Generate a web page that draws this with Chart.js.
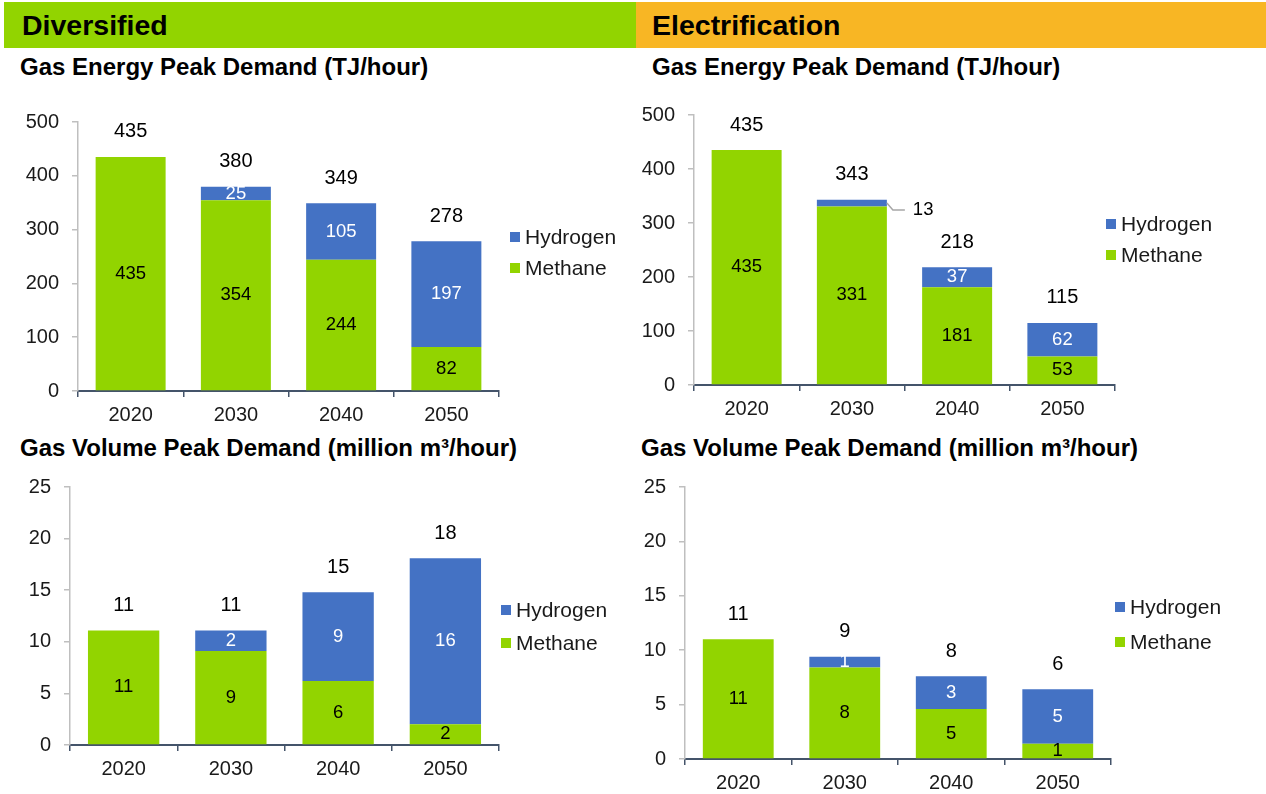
<!DOCTYPE html>
<html>
<head>
<meta charset="utf-8">
<script src="https://cdn.jsdelivr.net/npm/chart.js@4.4.1/dist/chart.umd.min.js"></script>
<style>
  html, body { margin:0; padding:0; background:#fff; }
  body { width:1266px; height:794px; position:relative; overflow:hidden; font-family:"Liberation Sans", Arial, sans-serif; }
  .band { position:absolute; top:2px; height:46px; }
  .band span { position:absolute; top:50%; transform:translateY(-50%); font-weight:bold; font-size:28.5px; color:#000; }
  .title { position:absolute; font-weight:bold; font-size:24px; color:#000; white-space:nowrap; line-height:28px; }
  canvas { position:absolute; }
</style>
</head>
<body>
<div class="band" style="left:4px;width:632px;background:#92D400;"><span style="left:18px;">Diversified</span></div>
<div class="band" style="left:636px;width:630px;background:#F8B624;"><span style="left:16px;">Electrification</span></div>
<div class="title" style="left:20px;top:53px;">Gas Energy Peak Demand (TJ/hour)</div>
<div class="title" style="left:652px;top:53px;">Gas Energy Peak Demand (TJ/hour)</div>
<div class="title" style="left:20px;top:434px;">Gas Volume Peak Demand (million m³/hour)</div>
<div class="title" style="left:641px;top:434px;">Gas Volume Peak Demand (million m³/hour)</div>

<canvas id="c1" width="636" height="340" style="left:0px;top:90px;"></canvas>
<canvas id="c2" width="630" height="340" style="left:636px;top:90px;"></canvas>
<canvas id="c3" width="636" height="332" style="left:0px;top:462px;"></canvas>
<canvas id="c4" width="630" height="332" style="left:636px;top:462px;"></canvas>

<script>
// ---- Data ----
const years = ["2020", "2030", "2040", "2050"];
const seriesNames = ["Methane", "Hydrogen"];

// Diversified – energy (TJ/hour)
const divEnergyMethane  = [435, 354.4, 244, 81.6];
const divEnergyHydrogen = [0, 25.4, 105, 196.6];
// Electrification – energy (TJ/hour)
const elecEnergyMethane  = [435, 330.6, 181, 53];
const elecEnergyHydrogen = [0, 12.6, 37, 62];
// Diversified – volume (million m3/hour)
const divVolumeMethane  = [11.1, 9.1, 6.2, 2.0];
const divVolumeHydrogen = [0, 2.0, 8.6, 16.1];
// Electrification – volume (million m3/hour)
const elecVolumeMethane  = [11.0, 8.4, 4.6, 1.4];
const elecVolumeHydrogen = [0, 1.0, 3.0, 5.0];

const energyTicks = { max: 500, step: 100 };
const volumeTicks = { max: 25, step: 5 };

// ---- Styles ----
const GREEN = "#92D400";
const BLUE = "#4472C4";
const FONT = '"Liberation Sans", Arial, sans-serif';

const labelPlugin = {
  id: "labels",
  afterDatasetsDraw(chart, args, opts) {
    const ctx = chart.ctx;
    const metaM = chart.getDatasetMeta(0);
    const metaH = chart.getDatasetMeta(1);
    const dM = chart.data.datasets[0].data;
    const dH = chart.data.datasets[1].data;
    ctx.save();
    ctx.textBaseline = "middle";
    for (let i = 0; i < dM.length; i++) {
      const bm = metaM.data[i], bh = metaH.data[i];
      // methane
      ctx.font = "18.5px " + FONT;
      ctx.fillStyle = "#000";
      ctx.textAlign = "center";
      ctx.fillText(String(Math.round(dM[i])), bm.x, (bm.y + bm.base) / 2);
      // hydrogen
      if (dH[i] > 0) {
        const segH = Math.abs(bh.base - bh.y);
        const cy = (bh.y + bh.base) / 2;
        if (segH >= 9) {
          ctx.fillStyle = "#fff";
          ctx.fillText(String(Math.round(dH[i])), bh.x, cy);
        } else {
          const right = bh.x + bh.width / 2;
          ctx.strokeStyle = "#a6a6a6";
          ctx.lineWidth = 1.5;
          ctx.beginPath();
          ctx.moveTo(right, cy);
          ctx.lineTo(right + 6, cy + 7);
          ctx.lineTo(right + 18, cy + 7);
          ctx.stroke();
          ctx.fillStyle = "#000";
          ctx.textAlign = "left";
          ctx.fillText(String(Math.round(dH[i])), right + 26, cy + 7);
          ctx.textAlign = "center";
        }
      }
      // total
      const total = dM[i] + dH[i];
      const topY = chart.scales.y.getPixelForValue(total);
      ctx.font = "20px " + FONT;
      ctx.fillStyle = "#000";
      ctx.fillText(String(Math.round(total)), bm.x, topY - 25);
    }
    // legend
    const lg = opts.legend;
    const items = [{ name: seriesNames[1], color: BLUE }, { name: seriesNames[0], color: GREEN }];
    ctx.font = "21px " + FONT;
    ctx.textAlign = "left";
    items.forEach((it, k) => {
      const y = lg.ys[k];
      ctx.fillStyle = it.color;
      ctx.fillRect(lg.x, y - 5, 10, 10);
      ctx.fillStyle = "#1a1a1a";
      ctx.fillText(it.name, lg.x + 15, y + 1);
    });
    ctx.restore();
  }
};

function makeChart(id, methane, hydrogen, ticks, area, legend) {
  const canvas = document.getElementById(id);
  const W = canvas.width, H = canvas.height;
  const xAxisH = 35;
  return new Chart(canvas, {
    type: "bar",
    data: {
      labels: years,
      datasets: [
        { label: seriesNames[0], data: methane, backgroundColor: GREEN, borderWidth: 0 },
        { label: seriesNames[1], data: hydrogen, backgroundColor: BLUE, borderWidth: 0 }
      ]
    },
    options: {
      responsive: false,
      animation: false,
      events: [],
      devicePixelRatio: 1,
      layout: {
        padding: { left: 0, top: area.top, right: W - area.right, bottom: H - area.bottom - xAxisH }
      },
      datasets: { bar: { categoryPercentage: 1, barPercentage: 0.665 } },
      plugins: {
        legend: { display: false },
        tooltip: { enabled: false },
        title: { display: false },
        labels: { legend: legend }
      },
      scales: {
        x: {
          stacked: true,
          offset: true,
          afterFit: (s) => { s.height = xAxisH; },
          grid: { display: true, drawOnChartArea: false, drawTicks: true, tickLength: 6, color: "#44546A", lineWidth: 1.5, offset: true },
          border: { display: true, color: "#44546A", width: 2 },
          ticks: { color: "#1a1a1a", font: { family: FONT, size: 20 }, padding: 6, maxRotation: 0 }
        },
        y: {
          stacked: true,
          min: 0,
          max: ticks.max,
          afterFit: (s) => { s.width = area.left; },
          grid: { display: true, drawOnChartArea: false, drawTicks: true, tickLength: 6, color: "#BFBFBF", lineWidth: 1.5 },
          border: { display: true, color: "#BFBFBF", width: 1.5 },
          ticks: { stepSize: ticks.step, color: "#1a1a1a", font: { family: FONT, size: 20 }, padding: 13 }
        }
      }
    },
    plugins: [labelPlugin]
  });
}

makeChart("c1", divEnergyMethane, divEnergyHydrogen, energyTicks,
  { left: 78, top: 32, right: 499, bottom: 301 }, { x: 510, ys: [147, 178] });
makeChart("c2", elecEnergyMethane, elecEnergyHydrogen, energyTicks,
  { left: 58, top: 23, right: 479, bottom: 295 }, { x: 470, ys: [134, 165] });
makeChart("c3", divVolumeMethane, divVolumeHydrogen, volumeTicks,
  { left: 70, top: 18, right: 499, bottom: 283 }, { x: 501, ys: [148, 181] });
makeChart("c4", elecVolumeMethane, elecVolumeHydrogen, volumeTicks,
  { left: 49, top: 19, right: 475, bottom: 297 }, { x: 479, ys: [145, 180] });
</script>
</body>
</html>
